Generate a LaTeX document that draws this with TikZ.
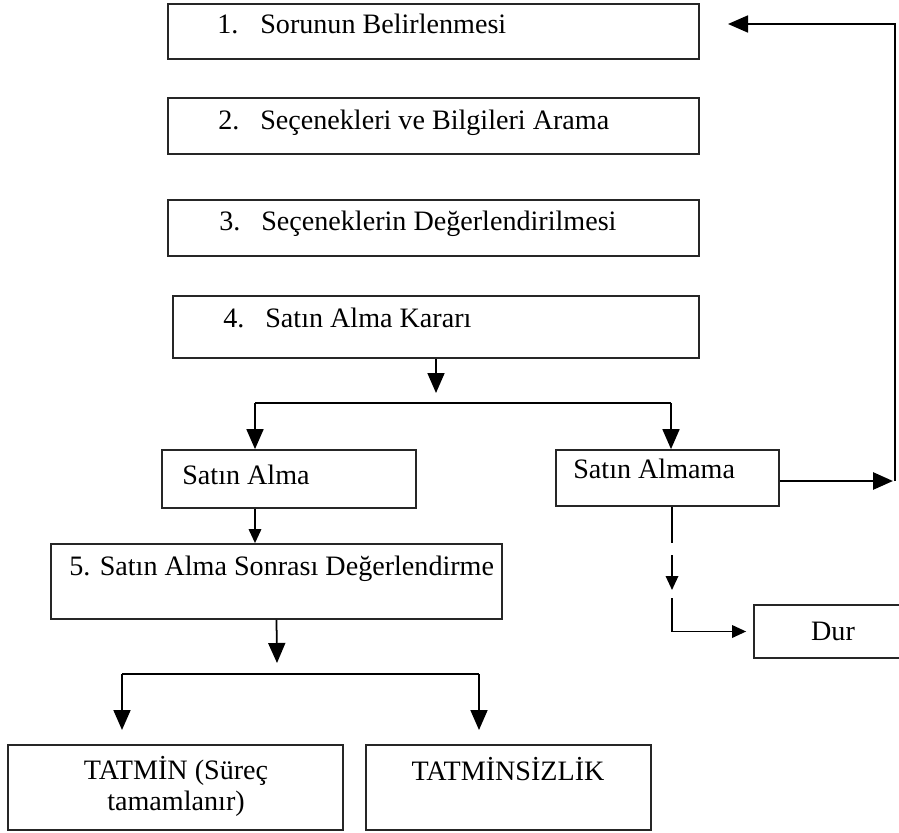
\documentclass[tikz,border=0pt]{standalone}
\usepackage{fontspec}
\setmainfont{Liberation Serif}
\usepackage{tikz}
\usetikzlibrary{arrows.meta}
\tikzstyle{box}=[draw=black!85,line width=1pt,inner sep=0pt,rectangle]
\tikzstyle{txt}=[inner sep=0pt,font=\fontsize{16}{17.6}\selectfont]
\tikzstyle{bigarrow}=[line width=1pt,-{Triangle[length=4mm,width=3.4mm]}]
\tikzstyle{smallarrow}=[line width=1pt,-{Triangle[length=2.8mm,width=2.5mm]}]

\begin{document}
\begin{tikzpicture}[x=0.02cm,y=-0.02cm]
  \useasboundingbox (0,0) rectangle (899,832);
  \clip (0,0) rectangle (899,832);

  % boxes
  \node[box,minimum width=10.62cm,minimum height=1.10cm] (b1) at (433.5,31.5) {};
  \node[box,minimum width=10.62cm,minimum height=1.12cm] (b2) at (433.5,126) {};
  \node[box,minimum width=10.62cm,minimum height=1.12cm] (b3) at (433.5,228) {};
  \node[box,minimum width=10.52cm,minimum height=1.24cm] (b4) at (436,327) {};
  \node[box,minimum width=5.08cm,minimum height=1.16cm] (alma) at (289,479) {};
  \node[box,minimum width=4.46cm,minimum height=1.12cm] (almama) at (667.5,478) {};
  \node[box,minimum width=9.02cm,minimum height=1.50cm] (b5) at (276.5,581.5) {};
  \node[box,minimum width=6.70cm,minimum height=1.70cm] (tatmin) at (175.5,787.5) {};
  \node[box,minimum width=5.70cm,minimum height=1.70cm] (tatminsiz) at (508.5,787.5) {};
  \node[box,minimum width=3.16cm,minimum height=1.06cm] (dur) at (833,631.5) {};

  % texts
  \node[txt,anchor=base west] (l1) at (217,33) {\makebox[0.86cm][l]{1.}Sorunun Belirlenmesi};
  \node[txt,anchor=base west] (l2) at (218,129) {\makebox[0.84cm][l]{2.}Seçenekleri ve Bilgileri Arama};
  \node[txt,anchor=base west] (l3) at (219,230) {\makebox[0.84cm][l]{3.}Seçeneklerin Değerlendirilmesi};
  \node[txt,anchor=base west] (l4) at (223,327) {\makebox[0.84cm][l]{4.}Satın Alma Kararı};
  \node[txt,anchor=base west] (l5) at (182,484) {Satın Alma};
  \node[txt,anchor=base west] (l6) at (573,478) {Satın Almama};
  \node[txt,anchor=base west] (l7) at (69,575) {5. Satın Alma Sonrası Değerlendirme};
  \node[txt,align=center] (l8) at (176,786) {TATMİN (Süreç\\tamamlanır)};
  \node[txt,anchor=base] (l9) at (508,780) {TATMİNSİZLİK};
  \node[txt,anchor=base] (l10) at (833,640) {Dur};

  % connectors
  \coordinate (k1) at (436,393);
  \coordinate (s1) at (255,403);
  \coordinate (s2) at (671,403);
  \coordinate (k2) at (277,663);
  \coordinate (s3) at (122,674);
  \coordinate (s4) at (479,674);
  \coordinate (r1) at (893,481);
  \coordinate (r2) at (895,481);
  \coordinate (back) at (728,24);
  \coordinate (d1) at (672,543);
  \coordinate (d2) at (672,555);
  \coordinate (d3) at (672,590);
  \coordinate (d4) at (672,598);

  \draw[bigarrow] (b4.south) -- (k1);
  \draw[line width=1pt] (s1) -- (s2);
  \draw[bigarrow] (s1) -- (s1 |- alma.north);
  \draw[bigarrow] (s2) -- (s2 |- almama.north);
  \draw[smallarrow] (s1 |- alma.south) -- (s1 |- b5.north);
  \draw[bigarrow] (b5.south) -- (k2);
  \draw[line width=1pt] (s3) -- (s4);
  \draw[bigarrow] (s3) -- ++(0,56);
  \draw[bigarrow] (s4) -- ++(0,56);

  \draw[bigarrow,line width=1.6pt] (almama.east |- r1) -- (r1);
  \draw[bigarrow] (r2) |- (back);

  \draw[line width=1pt] (d1 |- almama.south) -- (d1);
  \draw[smallarrow] (d2) -- (d3);
  \draw[smallarrow,shorten >=0.14cm] (d4) |- (dur.west);
\end{tikzpicture}
\end{document}
